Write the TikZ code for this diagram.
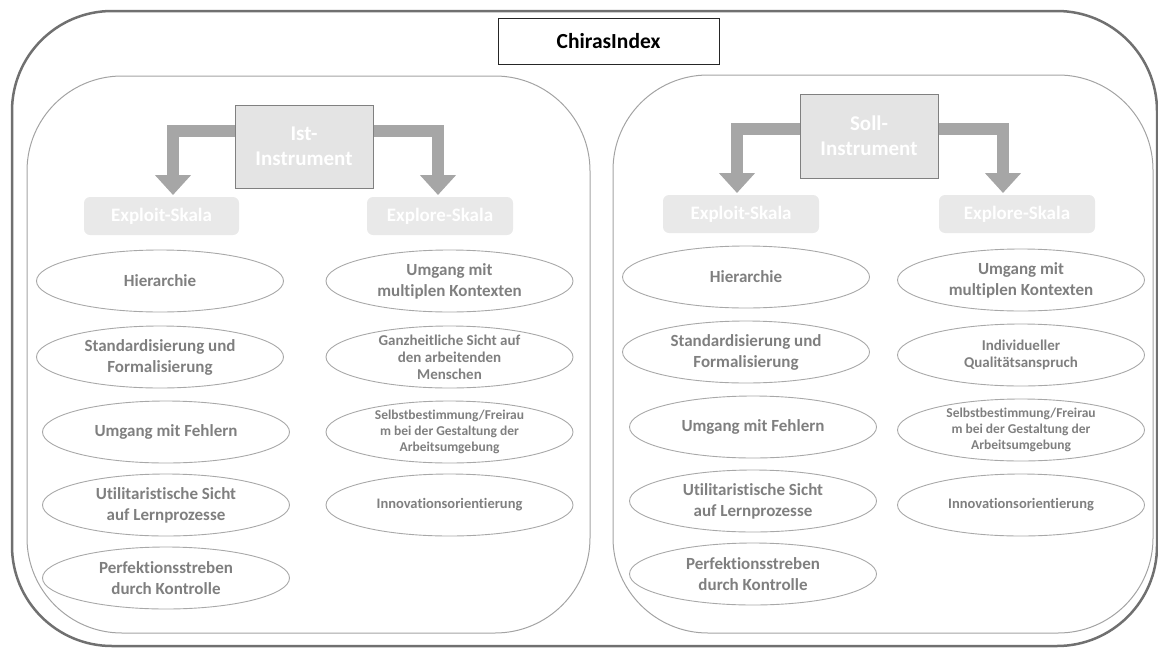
\documentclass[tikz,border=0pt]{standalone}
\usepackage{fontspec}
\setmainfont[Ligatures={NoCommon}]{Carlito}
\usetikzlibrary{shapes.geometric,arrows.meta}
\definecolor{framegray}{HTML}{707070}
\definecolor{panelgray}{HTML}{A3A3A3}
\definecolor{ellgray}{HTML}{A8A8A8}
\definecolor{txtgray}{HTML}{7F7F7F}
\definecolor{boxfill}{HTML}{E4E4E4}
\definecolor{boxline}{HTML}{808080}
\definecolor{skalafill}{HTML}{E9E9E9}
\definecolor{arrowgray}{HTML}{A6A6A6}
\begin{document}
\begin{tikzpicture}[x=1pt,y=-1pt,
  frame/.style={draw=framegray,line width=2.5pt,rounded corners=100pt,inner sep=0pt},
  panel/.style={draw=panelgray,line width=1pt,rounded corners=95pt,inner sep=0pt},
  titlebox/.style={draw=black!85,line width=1pt,minimum width=221pt,minimum height=46pt,inner sep=0pt,font=\bfseries\fontsize{21.5}{25}\selectfont},
  instbox/.style={draw=boxline,line width=1pt,fill=boxfill,minimum width=138pt,minimum height=83pt,inner sep=0pt,align=center,text=white,font=\bfseries\fontsize{21}{25}\selectfont},
  skala/.style={fill=skalafill,rounded corners=6pt,minimum height=38pt,inner sep=0pt,text=white,font=\bfseries\fontsize{19}{23}\selectfont},
  ell/.style={ellipse,draw=ellgray,line width=0.9pt,minimum width=247pt,minimum height=62pt,inner sep=0pt},
  etxt/.style={align=center,text=txtgray,inner sep=0pt,font=\bfseries\fontsize{17}{21}\selectfont},
  esmall/.style={etxt,font=\bfseries\fontsize{15}{17}\selectfont},
  etiny/.style={etxt,font=\bfseries\fontsize{13.5}{16}\selectfont},
  einno/.style={etxt,font=\bfseries\fontsize{14.5}{17}\selectfont},
  bigarrow/.style={draw=arrowgray,line width=12pt,-{Triangle[length=20pt,width=35pt]}}
]
\useasboundingbox (0,0) rectangle (1158,648);

% outer frame and title
\node[frame,minimum width=1145pt,minimum height=635pt] (outer) at (584.5,328.5) {};
\node[titlebox] (title) at (608.5,41) {ChirasIndex};

% panels
\node[panel,minimum width=563pt,minimum height=557pt] (lpanel) at (308.5,354.5) {};
\node[panel,minimum width=540pt,minimum height=558pt] (rpanel) at (883,354) {};

% ---------- left panel ----------
\node[instbox] (ist) at (304,146.5) {Ist-\\Instrument};
\node[skala,minimum width=155pt] (lexploit) at (161.5,216) {Exploit-Skala};
\node[skala,minimum width=146pt] (lexplore) at (440,216) {Explore-Skala};
\coordinate (ltipA) at (173,195);
\coordinate (ltipB) at (438,195);
\draw[bigarrow] ([yshift=15.5pt]ist.west) -| (ltipA);
\draw[bigarrow] ([yshift=15.5pt]ist.east) -| (ltipB);

\node[ell] (la1) at (160,281) {};
\node[etxt] (la1t) at (la1) {Hierarchie};
\node[ell] (la2) at (160,357) {};
\node[etxt] (la2t) at (la2) {Standardisierung und\\Formalisierung};
\node[ell] (la3) at (166,432) {};
\node[etxt] (la3t) at (la3) {Umgang mit Fehlern};
\node[ell] (la4) at (166,505) {};
\node[etxt] (la4t) at (la4) {Utilitaristische Sicht\\auf Lernprozesse};
\node[ell] (la5) at (166,578) {};
\node[etxt] (la5t) at (la5) {Perfektionsstreben\\durch Kontrolle};

\node[ell] (lb1) at (449.5,281) {};
\node[etxt] (lb1t) at (lb1) {Umgang mit\\multiplen Kontexten};
\node[ell] (lb2) at (449.5,357) {};
\node[esmall] (lb2t) at (lb2) {Ganzheitliche Sicht auf\\den arbeitenden\\Menschen};
\node[ell] (lb3) at (449.5,432) {};
\node[etiny] (lb3t) at (lb3) {Selbstbestimmung/Freirau\\m bei der Gestaltung der\\Arbeitsumgebung};
\node[ell] (lb4) at (449.5,505) {};
\node[einno] (lb4t) at (lb4) {Innovationsorientierung};

% ---------- right panel ----------
\node[instbox,minimum height=84pt] (soll) at (869,136) {Soll-\\Instrument};
\node[skala,minimum width=156pt] (rexploit) at (741,214) {Exploit-Skala};
\node[skala,minimum width=156pt] (rexplore) at (1017,214) {Explore-Skala};
\coordinate (rtipA) at (737,193);
\coordinate (rtipB) at (1003,193);
\draw[bigarrow] ([yshift=7pt]soll.west) -| (rtipA);
\draw[bigarrow] ([yshift=7pt]soll.east) -| (rtipB);

\node[ell] (ra1) at (746,277) {};
\node[etxt] (ra1t) at (ra1) {Hierarchie};
\node[ell] (ra2) at (746,352) {};
\node[etxt] (ra2t) at (ra2) {Standardisierung und\\Formalisierung};
\node[ell] (ra3) at (753,427) {};
\node[etxt] (ra3t) at (ra3) {Umgang mit Fehlern};
\node[ell] (ra4) at (753,501) {};
\node[etxt] (ra4t) at (ra4) {Utilitaristische Sicht\\auf Lernprozesse};
\node[ell] (ra5) at (753,574) {};
\node[etxt] (ra5t) at (ra5) {Perfektionsstreben\\durch Kontrolle};

\node[ell] (rb1) at (1021,280) {};
\node[etxt] (rb1t) at (rb1) {Umgang mit\\multiplen Kontexten};
\node[ell] (rb2) at (1021,355) {};
\node[esmall] (rb2t) at (rb2) {Individueller\\Qualitätsanspruch};
\node[ell] (rb3) at (1021,430) {};
\node[etiny] (rb3t) at (rb3) {Selbstbestimmung/Freirau\\m bei der Gestaltung der\\Arbeitsumgebung};
\node[ell] (rb4) at (1021,505) {};
\node[einno] (rb4t) at (rb4) {Innovationsorientierung};
\end{tikzpicture}
\end{document}
